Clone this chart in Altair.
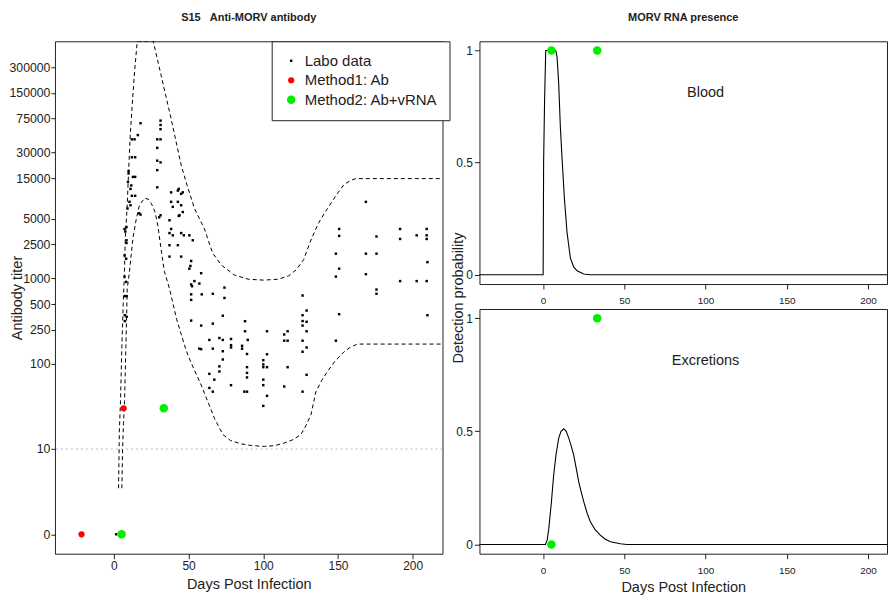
import altair as alt
import numpy as np
import pandas as pd

FONT = "Liberation Sans"
INK = "#222222"
GREEN = "#00ee00"
RED = "#ff0000"

# ---------------- data ----------------
labo_day = [
    1.5,
    7.1, 7.6, 7.1, 8.2, 7.1, 8.2, 7.3, 8.5, 7.3, 8.5, 7.3,
    9.8, 9.8, 9.4, 11.6, 11.1, 12.0, 14.2, 10.4, 11.1, 9.1, 8.4, 8.4, 8.4,
    12.0, 13.8, 16.0, 12.0, 14.2, 12.7, 14.2, 17.8, 17.8, 16.9,
    31.2, 31.2, 31.2, 29.0, 31.2, 29.0, 29.0, 31.2, 29.0, 29.0, 31.2, 30.3,
    38.3, 42.8, 45.0, 38.3, 39.4, 42.8, 45.0, 46.1, 43.9, 37.2, 38.3, 37.2, 39.4, 45.0, 46.8,
    37.2, 42.8, 37.2, 45.0, 43.4, 46.1, 43.4,
    50.5, 52.8, 51.7, 51.2, 50.5, 58.4, 53.9, 51.7, 57.2, 52.3,
    51.7, 58.8, 66.2, 51.7, 74.0, 74.0, 51.7, 58.4, 66.2, 72.9,
    87.8, 87.8, 63.9, 70.6, 72.9, 78.4, 78.4, 89.6,
    57.2, 58.4, 66.2, 72.9, 78.4, 85.8, 85.8, 89.1,
    72.9, 70.6, 70.6, 89.1, 89.1, 89.1,
    63.9, 67.2, 78.4, 63.9, 66.2, 87.3, 89.1,
    100.0, 100.0, 100.0, 102.5, 102.5, 102.5, 100.0, 100.0, 102.5, 100.0,
    116.3, 114.0, 114.0, 116.3, 116.3, 114.0,
    126.3, 129.0, 126.3, 126.3, 129.0, 126.3, 129.0, 126.3, 129.0, 126.3, 129.0, 126.3,
    148.6, 150.8, 148.6, 150.8, 148.6, 150.8, 150.8, 168.7, 168.7, 168.7,
    175.8, 175.8, 175.8, 175.8, 191.6, 191.6, 191.6, 202.7, 202.7,
    209.4, 209.4, 209.4, 209.9, 209.4, 209.9,
]
labo_titer = [
    0,
    3800, 3550, 1860, 1700, 1050, 910, 620, 620, 370, 355, 316,
    18200, 17000, 13500, 12300, 11200, 9300, 9300, 7900, 7200, 6600, 4000, 2800, 2600,
    42700, 42700, 47900, 26300, 26300, 15500, 15500, 66000, 5600, 5800,
    70800, 63000, 56200, 42700, 42700, 33900, 24000, 22900, 18600, 11700, 5500, 5200,
    10200, 10700, 9800, 7900, 6900, 7900, 7200, 6000, 5500, 4800, 3800, 3400, 3200, 3400, 3200,
    2450, 2450, 1800, 1800, 11200, 10200, 5400,
    3200, 2800, 1600, 1400, 1300, 1150, 930, 850, 870, 810,
    650, 650, 660, 560, 590, 780, 320, 280, 295, 365,
    315, 240, 190, 200, 190, 195, 165, 190,
    150, 148, 150, 140, 155, 162, 150, 130,
    112, 93, 81, 91, 78, 69,
    76, 65, 56, 52, 47, 47, 47,
    110, 98, 91, 91, 240, 129, 65, 56, 42, 32,
    240, 220, 186, 186, 91, 54,
    630, 420, 370, 316, 310, 280, 240, 186, 155, 138, 74, 47,
    186, 380, 1050, 1300, 1950, 3150, 3800, 7900, 1950, 1120,
    3100, 1950, 740, 660, 3800, 2900, 930, 3200, 930,
    3800, 3200, 2900, 1550, 930, 370,
]
method1_day = [-21.7, 6.5]
method1_titer = [0, 30]
method2_day = [5.1, 33.4]
method2_titer = [0, 30]

# envelope curves (log10 titer); the upper one leaves the panel between day 15.6 and 26.3
upper_day = [3.1, 3.6, 4.4, 5.3, 6.2, 6.9, 7.6, 8.9, 9.8, 11.0, 12.2, 13.8, 15.6,
             26.3, 31.6, 38.3, 45.0, 48.3, 53.9, 60.6, 66.0, 71.7, 80.6,
             90.0, 100.0, 110.0, 117.0, 122.0, 127.0, 131.9, 137.0, 143.0, 149.0,
             154.0, 158.6, 162.0, 220.0]
upper_log10 = [0.54, 1.2, 1.56, 2.2, 2.7, 3.0, 3.47, 3.86, 4.25, 4.7, 5.03, 5.42, 5.78,
               5.78, 5.38, 4.87, 4.33, 4.13, 3.82, 3.58, 3.3, 3.16, 3.04,
               2.99, 2.98, 2.99, 3.03, 3.1, 3.22, 3.45, 3.65, 3.82, 3.98,
               4.1, 4.15, 4.17, 4.17]
lower_day = [5.3, 5.8, 6.4, 7.1, 8.0, 8.9, 10.4, 12.7, 15.0, 17.1, 20.5, 23.0, 25.0, 27.5,
             29.4, 31.5, 33.8, 37.2, 42.0, 47.2, 49.5, 54.0, 58.4, 63.0, 67.3, 72.9, 78.0,
             85.1, 92.0, 100.7, 108.0, 114.0, 120.0, 125.2, 128.5, 131.9, 135.2, 139.0,
             143.0, 148.0, 154.1, 158.0, 163.1, 220.0]
lower_log10 = [0.54, 1.0, 1.3, 1.56, 2.2, 2.88, 3.08, 3.47, 3.7, 3.86, 3.94, 3.93, 3.88, 3.78,
               3.62, 3.35, 3.08, 2.88, 2.52, 2.22, 2.10, 1.92, 1.75, 1.55, 1.36, 1.17, 1.1,
               1.06, 1.04, 1.03, 1.04, 1.07, 1.11, 1.17, 1.27, 1.40, 1.67, 1.80,
               1.91, 2.03, 2.14, 2.19, 2.23, 2.23]

y_tick_titers = [0, 10, 100, 250, 500, 1000, 2500, 5000, 15000, 30000, 75000, 150000, 300000]
x_ticks = [0, 50, 100, 150, 200]
prob_ticks = [0, 0.5, 1]
threshold_titer = [10]

blood_day = [-40, 0, 0.3, 0.9, 1.6, 7.8, 8.6, 9.6, 10.6, 11.8, 13.1, 14.7, 16.8, 18.8,
             20.9, 25.0, 29.0, 220]
blood_prob = [0, 0, 0.5, 0.78, 1.0, 1.0, 0.97, 0.85, 0.66, 0.5, 0.34, 0.19, 0.074, 0.035,
              0.018, 0.004, 0, 0]
excr_day = [-40, 1.4, 2.5, 3.5, 5.0, 6.5, 8.0, 9.6, 11.0, 12.7, 14.2, 15.8, 17.3, 18.8,
            20.3, 21.9, 23.5, 25.0, 27.0, 29.1, 32.0, 35.2, 38.0, 41.4, 47.5, 51.6, 220]
excr_prob = [0, 0, 0.02, 0.071, 0.18, 0.307, 0.4, 0.47, 0.5, 0.511, 0.5, 0.47, 0.435, 0.396,
             0.34, 0.278, 0.23, 0.189, 0.14, 0.1, 0.065, 0.041, 0.024, 0.012, 0.003, 0, 0]
rna_blood_day = [5.1, 33.3]
rna_blood_prob = [1, 1]
rna_excr_day = [5.1, 33.3]
rna_excr_prob = [0, 1]

series_names = ["Labo data", "Method1: Ab", "Method2: Ab+vRNA"]


def tlog(values):
    v = np.asarray(values, dtype=float)
    return np.where(v > 0, np.log10(np.where(v > 0, v, 1.0)), 0.0)


pts = pd.DataFrame({
    "day": labo_day + method1_day + method2_day,
    "ly": np.concatenate([tlog(labo_titer), tlog(method1_titer), tlog(method2_titer)]),
    "series": [series_names[0]] * len(labo_day) + [series_names[1]] * len(method1_day)
    + [series_names[2]] * len(method2_day),
})
curves = pd.DataFrame({
    "day": upper_day + lower_day,
    "ly": upper_log10 + lower_log10,
    "curve": ["upper"] * len(upper_day) + ["lower"] * len(lower_day),
    "idx": list(range(len(upper_day))) + list(range(len(lower_day))),
})
thr = pd.DataFrame({"ly": tlog(threshold_titer)})
y_tick_pos = [float(v) for v in tlog(y_tick_titers)]

LH = 513      # left plot height
TH, BH = 243, 245
RW = 408

# ---------------- left panel ----------------
xl_scale = alt.Scale(domain=[-39.5, 220], nice=False, zero=False)
yl_scale = alt.Scale(domain=[-0.228, 5.78], nice=False, zero=False)

x_left = alt.X("day:Q", scale=xl_scale, axis=alt.Axis(
    values=x_ticks, title="Days Post Infection", labelFontSize=12, tickSize=5,
    labelPadding=2, titleFontSize=14.5, titleFontWeight="normal", titlePadding=6))
y_left = alt.Y("ly:Q", scale=yl_scale, axis=alt.Axis(
    values=y_tick_pos,
    labelExpr="datum.value == 0 ? '0' : format(round(pow(10, datum.value)), 'd')",
    title="Antibody titer", labelFontSize=12.3, tickSize=4, labelPadding=1,
    titleFontSize=14.5, titleFontWeight="normal", titleX=-37, titleY=LH / 2,
    titleAngle=270, titleAlign="center", titleBaseline="middle"))

rule = alt.Chart(thr).mark_rule(color="#bbbbbb", strokeDash=[2, 3], strokeWidth=1).encode(
    y=alt.Y("ly:Q", scale=yl_scale))

lines = alt.Chart(curves).mark_line(color="black", strokeDash=[4, 3], strokeWidth=1,
                                    clip=True).encode(
    x=x_left, y=y_left, detail="curve:N", order="idx:Q")

leg = alt.Legend(orient="none", legendX=217, legendY=0, title=None, padding=12,
                 strokeColor=INK, fillColor="white", labelFontSize=15, labelFont=FONT,
                 labelColor=INK, rowPadding=3.5, labelOffset=6, symbolStrokeWidth=0,
                 cornerRadius=0)

points = alt.Chart(pts).mark_point(filled=True, opacity=1).encode(
    x=alt.X("day:Q", scale=xl_scale),
    y=alt.Y("ly:Q", scale=yl_scale),
    color=alt.Color("series:N", scale=alt.Scale(domain=series_names,
                                                range=["black", RED, GREEN]), legend=leg),
    shape=alt.Shape("series:N", scale=alt.Scale(domain=series_names,
                                                range=["square", "circle", "circle"]),
                    legend=leg),
    size=alt.Size("series:N", scale=alt.Scale(domain=series_names, range=[6, 72, 72]),
                  legend=leg),
)

left = alt.layer(rule, lines, points).properties(
    width=388, height=LH,
    title=alt.Title("S15\u00a0\u00a0\u00a0Anti-MORV antibody", fontSize=11,
                    fontWeight="bold", offset=18, font=FONT, color=INK, anchor="middle"))

# ---------------- right panels ----------------
xr_scale = alt.Scale(domain=[-39.2, -39.2 + RW / 1.626], nice=False, zero=False)
yr_scale = alt.Scale(domain=[-0.041, 1.041], nice=False, zero=False)


def rna_panel(day, prob, gday, gprob, label, top):
    line_df = pd.DataFrame({"day": day, "p": prob})
    pt_df = pd.DataFrame({"day": gday, "p": gprob})
    txt_df = pd.DataFrame({"day": [100], "p": [0.81], "t": [label]})
    if top:
        yax = alt.Axis(values=prob_ticks, labelExpr="toString(datum.value)",
                       labelFontSize=12, tickSize=5, labelPadding=2,
                       title="Detection probability", titleFontSize=14.5,
                       titleFontWeight="normal", titleX=-21, titleY=(TH + 25 + BH) / 2,
                       titleAngle=270, titleAlign="center", titleBaseline="middle")
        xax = alt.Axis(values=x_ticks, labelFontSize=10, tickSize=5, labelPadding=7,
                       title=None)
    else:
        yax = alt.Axis(values=prob_ticks, labelExpr="toString(datum.value)",
                       labelFontSize=12, tickSize=5, labelPadding=2, title=None)
        xax = alt.Axis(values=x_ticks, labelFontSize=10, tickSize=5, labelPadding=7,
                       title="Days Post Infection", titleFontSize=14.5,
                       titleFontWeight="normal", titlePadding=5)
    ln = alt.Chart(line_df).mark_line(color="black", strokeWidth=1.1, clip=True).encode(
        x=alt.X("day:Q", scale=xr_scale, axis=xax),
        y=alt.Y("p:Q", scale=yr_scale, axis=yax))
    gp = alt.Chart(pt_df).mark_circle(color=GREEN, size=72, opacity=1).encode(
        x=alt.X("day:Q", scale=xr_scale), y=alt.Y("p:Q", scale=yr_scale))
    tx = alt.Chart(txt_df).mark_text(fontSize=14.5, font=FONT, color=INK).encode(
        x=alt.X("day:Q", scale=xr_scale), y=alt.Y("p:Q", scale=yr_scale), text="t:N")
    ch = alt.layer(ln, gp, tx)
    if top:
        return ch.properties(width=RW, height=TH,
                             title=alt.Title("MORV RNA presence", fontSize=11,
                                             fontWeight="bold", offset=18, font=FONT,
                                             color=INK, anchor="middle"))
    return ch.properties(width=RW, height=BH)


top = rna_panel(blood_day, blood_prob, rna_blood_day, rna_blood_prob, "Blood", True)
bottom = rna_panel(excr_day, excr_prob, rna_excr_day, rna_excr_prob, "Excretions", False)

right = alt.vconcat(top, bottom, spacing=25, bounds="flush")

chart = alt.hconcat(left, right, spacing=37, bounds="flush").properties(
    padding={"left": 0, "top": 3, "right": 0, "bottom": 0},
    background="white",
).configure_view(stroke=INK, strokeWidth=1).configure_axis(
    labelColor=INK, tickColor=INK, titleColor=INK, labelFont=FONT, titleFont=FONT,
    grid=False, domain=False,
).configure_title(font=FONT)

chart.save("out.html", embed_options={"renderer": "svg", "actions": False})
